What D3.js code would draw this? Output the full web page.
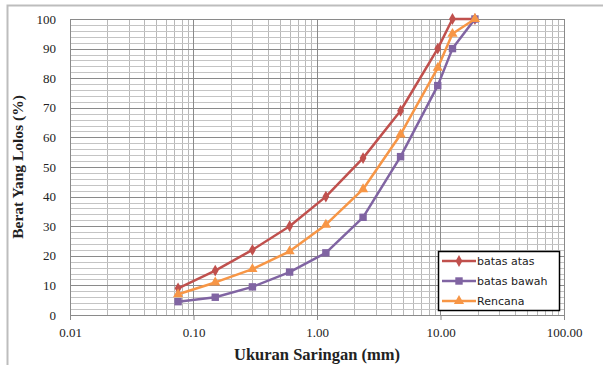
<!DOCTYPE html>
<html>
  <head>
    <meta charset="utf-8" />
    <title>gradasi</title>
    <script src="https://d3js.org/d3.v7.min.js"></script>
    <style>
      body { margin: 0; background: #fff; }
    </style>
  </head>
  <body>
    <svg id="chart"></svg>
    <script>
      // sieve sizes (mm)
      var sieves = [0.075, 0.15, 0.3, 0.6, 1.18, 2.36, 4.75, 9.5, 12.5, 19];
      var batasAtas = [9, 15, 22, 30, 40, 53, 69, 90, 100, 100];
      var batasBawah = [4.5, 6, 9.5, 14.5, 21, 33, 53.5, 77.5, 90, 100];
      var rencana = [7, 11, 15.5, 21.5, 30.5, 42.5, 61, 83.5, 95, 100];
      var seriesNames = ["batas atas", "batas bawah", "Rencana"];
      var xTicks = [0.01, 0.1, 1, 10, 100];
      var yTicks = [0, 10, 20, 30, 40, 50, 60, 70, 80, 90, 100];

      var width = 603, height = 365;
      var margin = { top: 19, right: 39, bottom: 50, left: 70 };

      var svg = d3.select("#chart")
        .attr("width", width)
        .attr("height", height);

      // outer chart border
      svg.append("rect")
        .attr("x", 7.5).attr("y", 5.5)
        .attr("width", width).attr("height", height)
        .attr("fill", "none")
        .attr("stroke", "#bdbdbd")
        .attr("stroke-width", 2);

      var x = d3.scaleLog()
        .domain([0.01, 100])
        .range([margin.left, width - margin.right]);

      var y = d3.scaleLinear()
        .domain([0, 100])
        .range([height - margin.bottom, margin.top]);

      var grid = svg.append("g");

      // minor vertical grid
      var minorX = [];
      for (var d = 0.01; d < 100; d *= 10) {
        for (var k = 2; k <= 9; k++) minorX.push(d * k);
      }
      grid.selectAll(".vminor")
        .data(minorX)
        .enter().append("line")
        .attr("x1", function(d) { return Math.round(x(d)) + 0.5; })
        .attr("x2", function(d) { return Math.round(x(d)) + 0.5; })
        .attr("y1", y(0)).attr("y2", y(100))
        .attr("stroke", "#b8b8b8").attr("stroke-width", 1);

      // minor horizontal grid
      grid.selectAll(".hminor")
        .data(d3.range(2, 100, 2))
        .enter().append("line")
        .attr("x1", x(0.01)).attr("x2", x(100))
        .attr("y1", function(d) { return Math.round(y(d)) + 0.5; })
        .attr("y2", function(d) { return Math.round(y(d)) + 0.5; })
        .attr("stroke", "#c4c4c4").attr("stroke-width", 1);

      // major grid
      grid.selectAll(".hmajor")
        .data(yTicks)
        .enter().append("line")
        .attr("x1", x(0.01)).attr("x2", x(100))
        .attr("y1", function(d) { return Math.round(y(d)) + 0.5; })
        .attr("y2", function(d) { return Math.round(y(d)) + 0.5; })
        .attr("stroke", "#8a8a8a").attr("stroke-width", 1);

      grid.selectAll(".vmajor")
        .data(xTicks)
        .enter().append("line")
        .attr("x1", function(d) { return Math.round(x(d)) + 0.5; })
        .attr("x2", function(d) { return Math.round(x(d)) + 0.5; })
        .attr("y1", y(0)).attr("y2", y(100))
        .attr("stroke", "#8a8a8a").attr("stroke-width", 1);

      // axes
      var xAxis = d3.axisBottom(x)
        .tickValues(xTicks)
        .tickFormat(d3.format(".2f"))
        .tickSize(5);
      var gx = svg.append("g")
        .attr("transform", "translate(0," + y(0) + ")")
        .call(xAxis);
      gx.select(".domain").attr("stroke", "#8a8a8a");
      gx.selectAll(".tick line").attr("stroke", "#8a8a8a");
      gx.selectAll("text")
        .attr("font-family", "Liberation Serif")
        .attr("font-size", "13px")
        .attr("fill", "#222")
        .attr("dy", "1.1em");

      var yAxis = d3.axisLeft(y)
        .tickValues(yTicks)
        .tickSize(0)
        .tickPadding(14);
      var gy = svg.append("g")
        .attr("transform", "translate(" + x(0.01) + ",0)")
        .call(yAxis);
      gy.select(".domain").attr("stroke", "#8a8a8a");
      gy.selectAll("text")
        .attr("font-family", "Liberation Serif")
        .attr("font-size", "13px")
        .attr("fill", "#222");

      // axis titles
      svg.append("text")
        .attr("x", (x(0.01) + x(100)) / 2)
        .attr("y", 360)
        .attr("text-anchor", "middle")
        .attr("font-family", "Liberation Serif")
        .attr("font-weight", "bold")
        .attr("font-size", "16.5px")
        .attr("fill", "#222")
        .text("Ukuran Saringan (mm)");

      svg.append("text")
        .attr("transform", "translate(23," + ((y(0) + y(100)) / 2) + ") rotate(-90)")
        .attr("text-anchor", "middle")
        .attr("font-family", "Liberation Serif")
        .attr("font-weight", "bold")
        .attr("font-size", "15.5px")
        .attr("fill", "#222")
        .text("Berat Yang Lolos (%)");

      var series = [
        { name: seriesNames[0], values: batasAtas, color: "#c0504d", symbol: d3.symbolDiamond, size: 40 },
        { name: seriesNames[1], values: batasBawah, color: "#8064a2", symbol: d3.symbolSquare, size: 55 },
        { name: seriesNames[2], values: rencana, color: "#f79646", symbol: d3.symbolTriangle, size: 45 }
      ];

      var line = d3.line()
        .x(function(d) { return x(d[0]); })
        .y(function(d) { return y(d[1]); });

      series.forEach(function(s) {
        var pts = sieves.map(function(v, i) { return [v, s.values[i]]; });
        svg.append("path")
          .datum(pts)
          .attr("d", line)
          .attr("fill", "none")
          .attr("stroke", s.color)
          .attr("stroke-width", 2.5)
          .attr("stroke-linejoin", "round");
        svg.selectAll(null)
          .data(pts)
          .enter().append("path")
          .attr("d", d3.symbol().type(s.symbol).size(s.size))
          .attr("transform", function(d) { return "translate(" + x(d[0]) + "," + y(d[1]) + ")"; })
          .attr("fill", s.color);
      });

      // legend
      var legend = svg.append("g").attr("transform", "translate(438,251)");
      legend.append("rect")
        .attr("x", 0.5).attr("y", 0.5)
        .attr("width", 121).attr("height", 59)
        .attr("fill", "#fff")
        .attr("stroke", "#000")
        .attr("stroke-width", 1.5);
      series.forEach(function(s, i) {
        var g = legend.append("g").attr("transform", "translate(0," + (10 + i * 20) + ")");
        g.append("line")
          .attr("x1", 4).attr("x2", 38)
          .attr("y1", 0).attr("y2", 0)
          .attr("stroke", s.color).attr("stroke-width", 2.5);
        g.append("path")
          .attr("d", d3.symbol().type(s.symbol).size(s.size))
          .attr("transform", "translate(21,0)")
          .attr("fill", s.color);
        g.append("text")
          .attr("x", 39).attr("y", 0)
          .attr("dy", "0.35em")
          .attr("font-family", "DejaVu Sans")
          .attr("font-size", "11px")
          .attr("fill", "#222")
          .text(s.name);
      });
    </script>
  </body>
</html>
